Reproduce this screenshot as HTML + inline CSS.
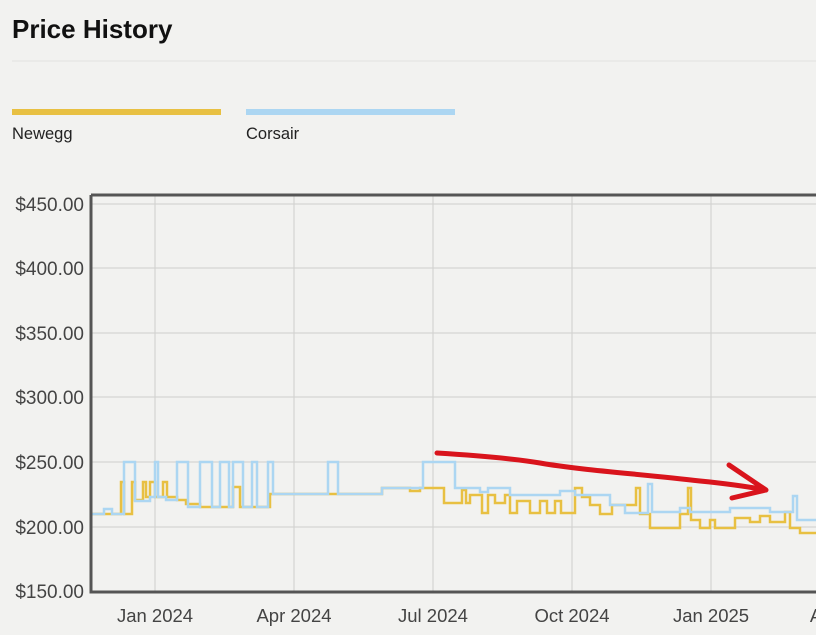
<!DOCTYPE html><html><head><style>
body{margin:0;background:#f2f2f0;width:816px;height:635px;overflow:hidden;font-family:"Liberation Sans",sans-serif}
</style></head><body>
<svg width="816" height="635" xmlns="http://www.w3.org/2000/svg" style="position:absolute;left:0;top:0">
<text x="12" y="38" font-size="26" font-weight="bold" fill="#111" font-family="Liberation Sans">Price History</text>
<line x1="12" y1="61" x2="816" y2="61" stroke="#e2e2e0" stroke-width="1"/>
<rect x="12" y="109" width="209" height="6" fill="#e8c042"/>
<rect x="246" y="109" width="209" height="6" fill="#acd6f2"/>
<text x="12" y="139" font-size="16.5" fill="#222">Newegg</text>
<text x="246" y="139" font-size="16.5" fill="#222">Corsair</text>
<g stroke="#cfcfcd" stroke-width="1">
<line x1="92" y1="204" x2="816" y2="204"/><line x1="92" y1="268" x2="816" y2="268"/>
<line x1="92" y1="333" x2="816" y2="333"/><line x1="92" y1="397" x2="816" y2="397"/>
<line x1="92" y1="462" x2="816" y2="462"/><line x1="92" y1="527" x2="816" y2="527"/>
<line x1="155" y1="195" x2="155" y2="591"/><line x1="294" y1="195" x2="294" y2="591"/>
<line x1="433" y1="195" x2="433" y2="591"/><line x1="572" y1="195" x2="572" y2="591"/>
<line x1="711" y1="195" x2="711" y2="591"/>
</g>
<g font-size="19" fill="#444" text-anchor="end">
<text x="84" y="211">$450.00</text><text x="84" y="275">$400.00</text>
<text x="84" y="340">$350.00</text><text x="84" y="404">$300.00</text>
<text x="84" y="469">$250.00</text><text x="84" y="534">$200.00</text>
<text x="84" y="598">$150.00</text>
</g>
<g font-size="18.5" fill="#444" text-anchor="middle">
<text x="155" y="622">Jan 2024</text><text x="294" y="622">Apr 2024</text>
<text x="433" y="622">Jul 2024</text><text x="572" y="622">Oct 2024</text>
<text x="711" y="622">Jan 2025</text><text x="816" y="622">A</text>
</g>
<path fill="none" stroke="#e8c042" stroke-width="2.5" d="M90 514 H121 V482 H124 V514 H132 V482 H135 V500 H143 V482 H146 V497 H150 V482 H155 V497 H163 V482 H167 V497 H177 V500 H186 V504 H200 V507 H233 V487 H240 V507 H270 V494 H328 V494 H382 V488 H410 V491 H420 V488 H444 V503 H462 V490 H466 V503 H470 V495 H482 V513 H488 V495 H495 V503 H505 V495 H510 V513 H517 V501 H530 V513 H540 V501 H547 V513 H555 V501 H561 V513 H575 V488 H582 V497 H590 V505 H600 V514 H612 V505 H636 V488 H640 V514 H650 V528 H680 V514 H688 V488 H691 V520 H700 V528 H710 V520 H715 V528 H735 V518 H750 V522 H760 V516 H770 V522 H785 V512 H790 V528 H800 V533 H816"/>
<path fill="none" stroke="#acd6f2" stroke-width="2.5" d="M90 514 H104 V509 H112 V514 H124 V462 H135 V501 H150 V497 H155 V462 H158 V497 H166 V500 H177 V462 H188 V507 H200 V462 H212 V507 H220 V462 H229 V507 H233 V462 H243 V507 H252 V462 H257 V507 H268 V462 H273 V494 H328 V462 H338 V494 H382 V488 H423 V462 H455 V488 H480 V492 H488 V488 H510 V495 H560 V491 H575 V495 H610 V505 H625 V513 H648 V484 H652 V512 H680 V508 H690 V512 H730 V508 H770 V512 H793 V496 H797 V520 H816"/>
<path fill="none" stroke="#d9141c" stroke-width="5" stroke-linecap="round" stroke-linejoin="round" d="M437 453 C470 455 510 458 540 463 C580 470 640 474 700 481 C730 484 750 487 766 490 M729 465 L766 490 L732 498"/>
<path fill="none" stroke="#555" stroke-width="3" d="M91 195 H816 M91 195 V592 H816"/>
</svg>
</body></html>
